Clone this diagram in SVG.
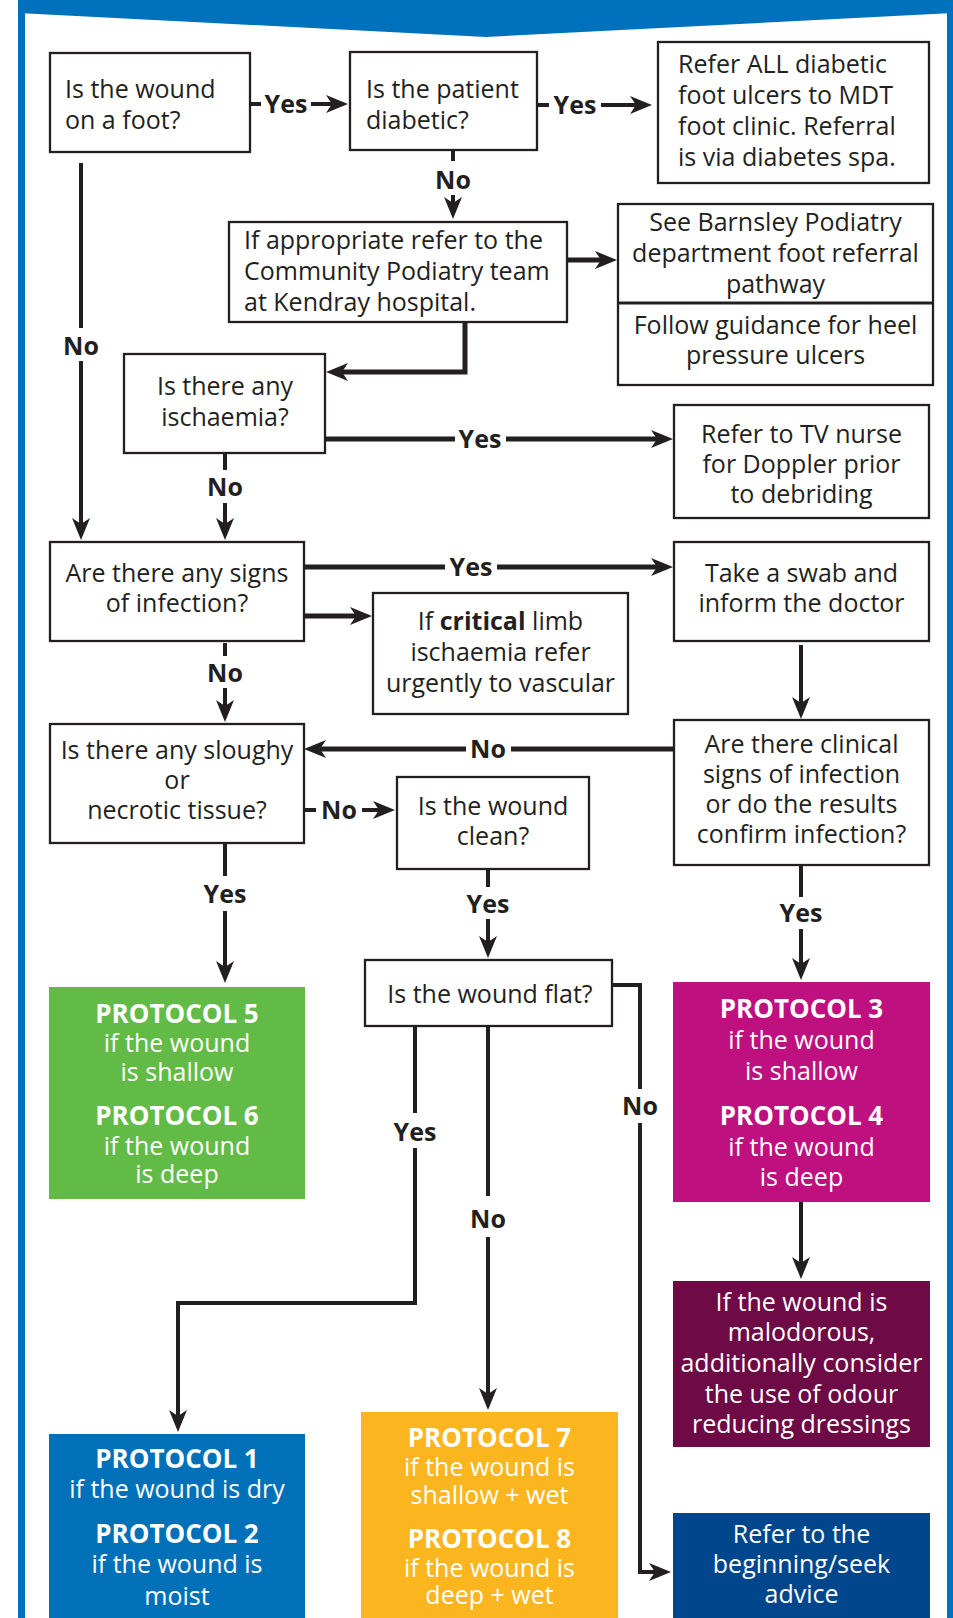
<svg xmlns="http://www.w3.org/2000/svg" width="953" height="1618" viewBox="0 0 953 1618">
<defs>
<style>
.bx{fill:#fff;stroke:#231f20;stroke-width:2.3}
.t{font-family:"Open Sans","Noto Sans",sans-serif;font-size:25px;fill:#231f20}
.c{text-anchor:middle}
.w{fill:#fff}
.lbl{font-family:"Open Sans","Noto Sans",sans-serif;font-size:25px;font-weight:bold;fill:#231f20;text-anchor:middle}
.ph{font-family:"Open Sans","Noto Sans",sans-serif;font-size:26px;font-weight:bold;fill:#fff;text-anchor:middle}
.ln{fill:none;stroke:#231f20;stroke-width:4;marker-end:url(#ah)}
.ln0{fill:none;stroke:#231f20;stroke-width:4}
.thk{stroke-width:5}
</style>
<marker id="ah" markerUnits="userSpaceOnUse" markerWidth="24" markerHeight="20" refX="12" refY="9" orient="auto" viewBox="0 0 24 18">
<path d="M0,0 L22,9 L0,18 L6,9 Z" fill="#231f20"/>
</marker>
</defs>
<rect width="953" height="1618" fill="#fff"/>
<g id="frame" fill="#0071bc">
<rect x="18" y="0" width="7" height="1618"/>
<rect x="947" y="0" width="6" height="1618"/>
<polygon points="18,0 953,0 953,13 486,37 18,13"/>
</g>

<g id="connectors">
<path class="ln" d="M250,104 H261 M311,104 H338"/>
<text class="lbl" x="286" y="113">Yes</text>
<path class="ln" d="M537,105 H549 M601,105 H642"/>
<text class="lbl" x="575" y="114">Yes</text>
<path class="ln" d="M453,150 V161 M453,195 V209"/>
<text class="lbl" x="453" y="189">No</text>
<path class="ln thk" d="M567,260 H607"/>
<path class="ln thk" d="M465,322 V372 H336"/>
<path class="ln" d="M81,163 V328 M81,361 V530"/>
<text class="lbl" x="81" y="355">No</text>
<path class="ln thk" d="M325,439 H455 M506,439 H663"/>
<text class="lbl" x="480" y="448">Yes</text>
<path class="ln" d="M225,453 V470 M225,503 V530"/>
<text class="lbl" x="225" y="496">No</text>
<path class="ln thk" d="M304,567 H445 M497,567 H663"/>
<text class="lbl" x="471" y="576">Yes</text>
<path class="ln thk" d="M304,616 H362"/>
<path class="ln" d="M225,643 V656 M225,688 V712"/>
<text class="lbl" x="225" y="682">No</text>
<path class="ln" d="M801,645 V709"/>
<path class="ln thk" d="M674,749 H511 M466,749 H314"/>
<text class="lbl" x="488" y="758">No</text>
<path class="ln" d="M304,810 H316 M362,810 H385"/>
<text class="lbl" x="339" y="819">No</text>
<path class="ln" d="M225,843 V876 M225,911 V973"/>
<text class="lbl" x="225" y="903">Yes</text>
<path class="ln" d="M488,869 V887 M488,919 V948"/>
<text class="lbl" x="488" y="913">Yes</text>
<path class="ln" d="M801,865 V897 M801,929 V970"/>
<text class="lbl" x="801" y="922">Yes</text>
<path class="ln" d="M415,1026 V1113 M415,1148 V1303 H178 V1422"/>
<text class="lbl" x="415" y="1141">Yes</text>
<path class="ln" d="M488,1026 V1196 M488,1237 V1400"/>
<text class="lbl" x="488" y="1228">No</text>
<path class="ln" d="M612,985 H640 V1089 M640,1123 V1572 H661"/>
<text class="lbl" x="640" y="1115">No</text>
<path class="ln" d="M801,1202 V1269"/>
</g>

<g id="n-foot">
<rect class="bx" x="50" y="53" width="200" height="99"/>
<text class="t" x="65" y="98">Is the wound</text>
<text class="t" x="65" y="129">on a foot?</text>
</g>
<g id="n-diabetic">
<rect class="bx" x="350" y="52" width="187" height="98"/>
<text class="t" x="366" y="98">Is the patient</text>
<text class="t" x="366" y="129">diabetic?</text>
</g>
<g id="n-refer-mdt">
<rect class="bx" x="658" y="42" width="271" height="141"/>
<text class="t" x="678" y="73">Refer ALL diabetic</text>
<text class="t" x="678" y="104">foot ulcers to MDT</text>
<text class="t" x="678" y="135">foot clinic. Referral</text>
<text class="t" x="678" y="166">is via diabetes spa.</text>
</g>
<g id="n-podiatry">
<rect class="bx" x="229" y="222" width="338" height="100"/>
<text class="t" x="244" y="249">If appropriate refer to the</text>
<text class="t" x="244" y="280">Community Podiatry team</text>
<text class="t" x="244" y="311">at Kendray hospital.</text>
</g>
<g id="n-barnsley">
<rect class="bx" x="618" y="204" width="315" height="181"/>
<line x1="618" y1="303" x2="933" y2="303" stroke="#231f20" stroke-width="3"/>
<text class="t c" x="775.5" y="231">See Barnsley Podiatry</text>
<text class="t c" x="775.5" y="262">department foot referral</text>
<text class="t c" x="775.5" y="293">pathway</text>
<text class="t c" x="775.5" y="334">Follow guidance for heel</text>
<text class="t c" x="775.5" y="364">pressure ulcers</text>
</g>
<g id="n-ischaemia">
<rect class="bx" x="124" y="354" width="201" height="99"/>
<text class="t c" x="225" y="395">Is there any</text>
<text class="t c" x="225" y="426">ischaemia?</text>
</g>
<g id="n-tv-nurse">
<rect class="bx" x="674" y="405" width="255" height="113"/>
<text class="t c" x="801.5" y="443">Refer to TV nurse</text>
<text class="t c" x="801.5" y="473">for Doppler prior</text>
<text class="t c" x="801.5" y="503">to debriding</text>
</g>
<g id="n-infection">
<rect class="bx" x="50" y="542" width="254" height="99"/>
<text class="t c" x="177" y="582">Are there any signs</text>
<text class="t c" x="177" y="612">of infection?</text>
</g>
<g id="n-swab">
<rect class="bx" x="674" y="542" width="255" height="99"/>
<text class="t c" x="801.5" y="582">Take a swab and</text>
<text class="t c" x="801.5" y="612">inform the doctor</text>
</g>
<g id="n-critical">
<rect class="bx" x="373" y="593" width="255" height="121"/>
<text class="t c" x="500.5" y="630">If <tspan font-weight="bold">critical</tspan> limb</text>
<text class="t c" x="500.5" y="661">ischaemia refer</text>
<text class="t c" x="500.5" y="692">urgently to vascular</text>
</g>
<g id="n-clinical">
<rect class="bx" x="674" y="720" width="255" height="145"/>
<text class="t c" x="801.5" y="753">Are there clinical</text>
<text class="t c" x="801.5" y="783">signs of infection</text>
<text class="t c" x="801.5" y="813">or do the results</text>
<text class="t c" x="801.5" y="843">confirm infection?</text>
</g>
<g id="n-sloughy">
<rect class="bx" x="50" y="724" width="254" height="119"/>
<text class="t c" x="177" y="759">Is there any sloughy</text>
<text class="t c" x="177" y="789">or</text>
<text class="t c" x="177" y="819">necrotic tissue?</text>
</g>
<g id="n-clean">
<rect class="bx" x="397" y="777" width="192" height="92"/>
<text class="t c" x="493" y="815">Is the wound</text>
<text class="t c" x="493" y="845">clean?</text>
</g>
<g id="n-flat">
<rect class="bx" x="365" y="960" width="247" height="66"/>
<text class="t c" x="490" y="1003">Is the wound flat?</text>
</g>
<g id="n-protocol-5-6">
<rect x="49" y="987" width="256" height="212" fill="#62bb46"/>
<text class="ph" x="177" y="1023">PROTOCOL 5</text>
<text class="t c w" x="177" y="1052">if the wound</text>
<text class="t c w" x="177" y="1081">is shallow</text>
<text class="ph" x="177" y="1125">PROTOCOL 6</text>
<text class="t c w" x="177" y="1155">if the wound</text>
<text class="t c w" x="177" y="1183">is deep</text>
</g>
<g id="n-protocol-3-4">
<rect x="673" y="982" width="257" height="220" fill="#be107e"/>
<text class="ph" x="801.5" y="1018">PROTOCOL 3</text>
<text class="t c w" x="801.5" y="1049">if the wound</text>
<text class="t c w" x="801.5" y="1080">is shallow</text>
<text class="ph" x="801.5" y="1125">PROTOCOL 4</text>
<text class="t c w" x="801.5" y="1156">if the wound</text>
<text class="t c w" x="801.5" y="1186">is deep</text>
</g>
<g id="n-malodorous">
<rect x="673" y="1281" width="257" height="166" fill="#6e0a46"/>
<text class="t c w" x="801.5" y="1311">If the wound is</text>
<text class="t c w" x="801.5" y="1341">malodorous,</text>
<text class="t c w" x="801.5" y="1372">additionally consider</text>
<text class="t c w" x="801.5" y="1403">the use of odour</text>
<text class="t c w" x="801.5" y="1433">reducing dressings</text>
</g>
<g id="n-protocol-1-2">
<rect x="49" y="1434" width="256" height="184" fill="#0070b9"/>
<text class="ph" x="177" y="1468">PROTOCOL 1</text>
<text class="t c w" x="177" y="1498">if the wound is dry</text>
<text class="ph" x="177" y="1543">PROTOCOL 2</text>
<text class="t c w" x="177" y="1573">if the wound is</text>
<text class="t c w" x="177" y="1605">moist</text>
</g>
<g id="n-protocol-7-8">
<rect x="361" y="1412" width="257" height="206" fill="#fbb51e"/>
<text class="ph" x="489.5" y="1447">PROTOCOL 7</text>
<text class="t c w" x="489.5" y="1476">if the wound is</text>
<text class="t c w" x="489.5" y="1504">shallow + wet</text>
<text class="ph" x="489.5" y="1548">PROTOCOL 8</text>
<text class="t c w" x="489.5" y="1577">if the wound is</text>
<text class="t c w" x="489.5" y="1604">deep + wet</text>
</g>
<g id="n-refer-beginning">
<rect x="673" y="1513" width="257" height="105" fill="#00468c"/>
<text class="t c w" x="801.5" y="1543">Refer to the</text>
<text class="t c w" x="801.5" y="1573">beginning/seek</text>
<text class="t c w" x="801.5" y="1603">advice</text>
</g>
</svg>
